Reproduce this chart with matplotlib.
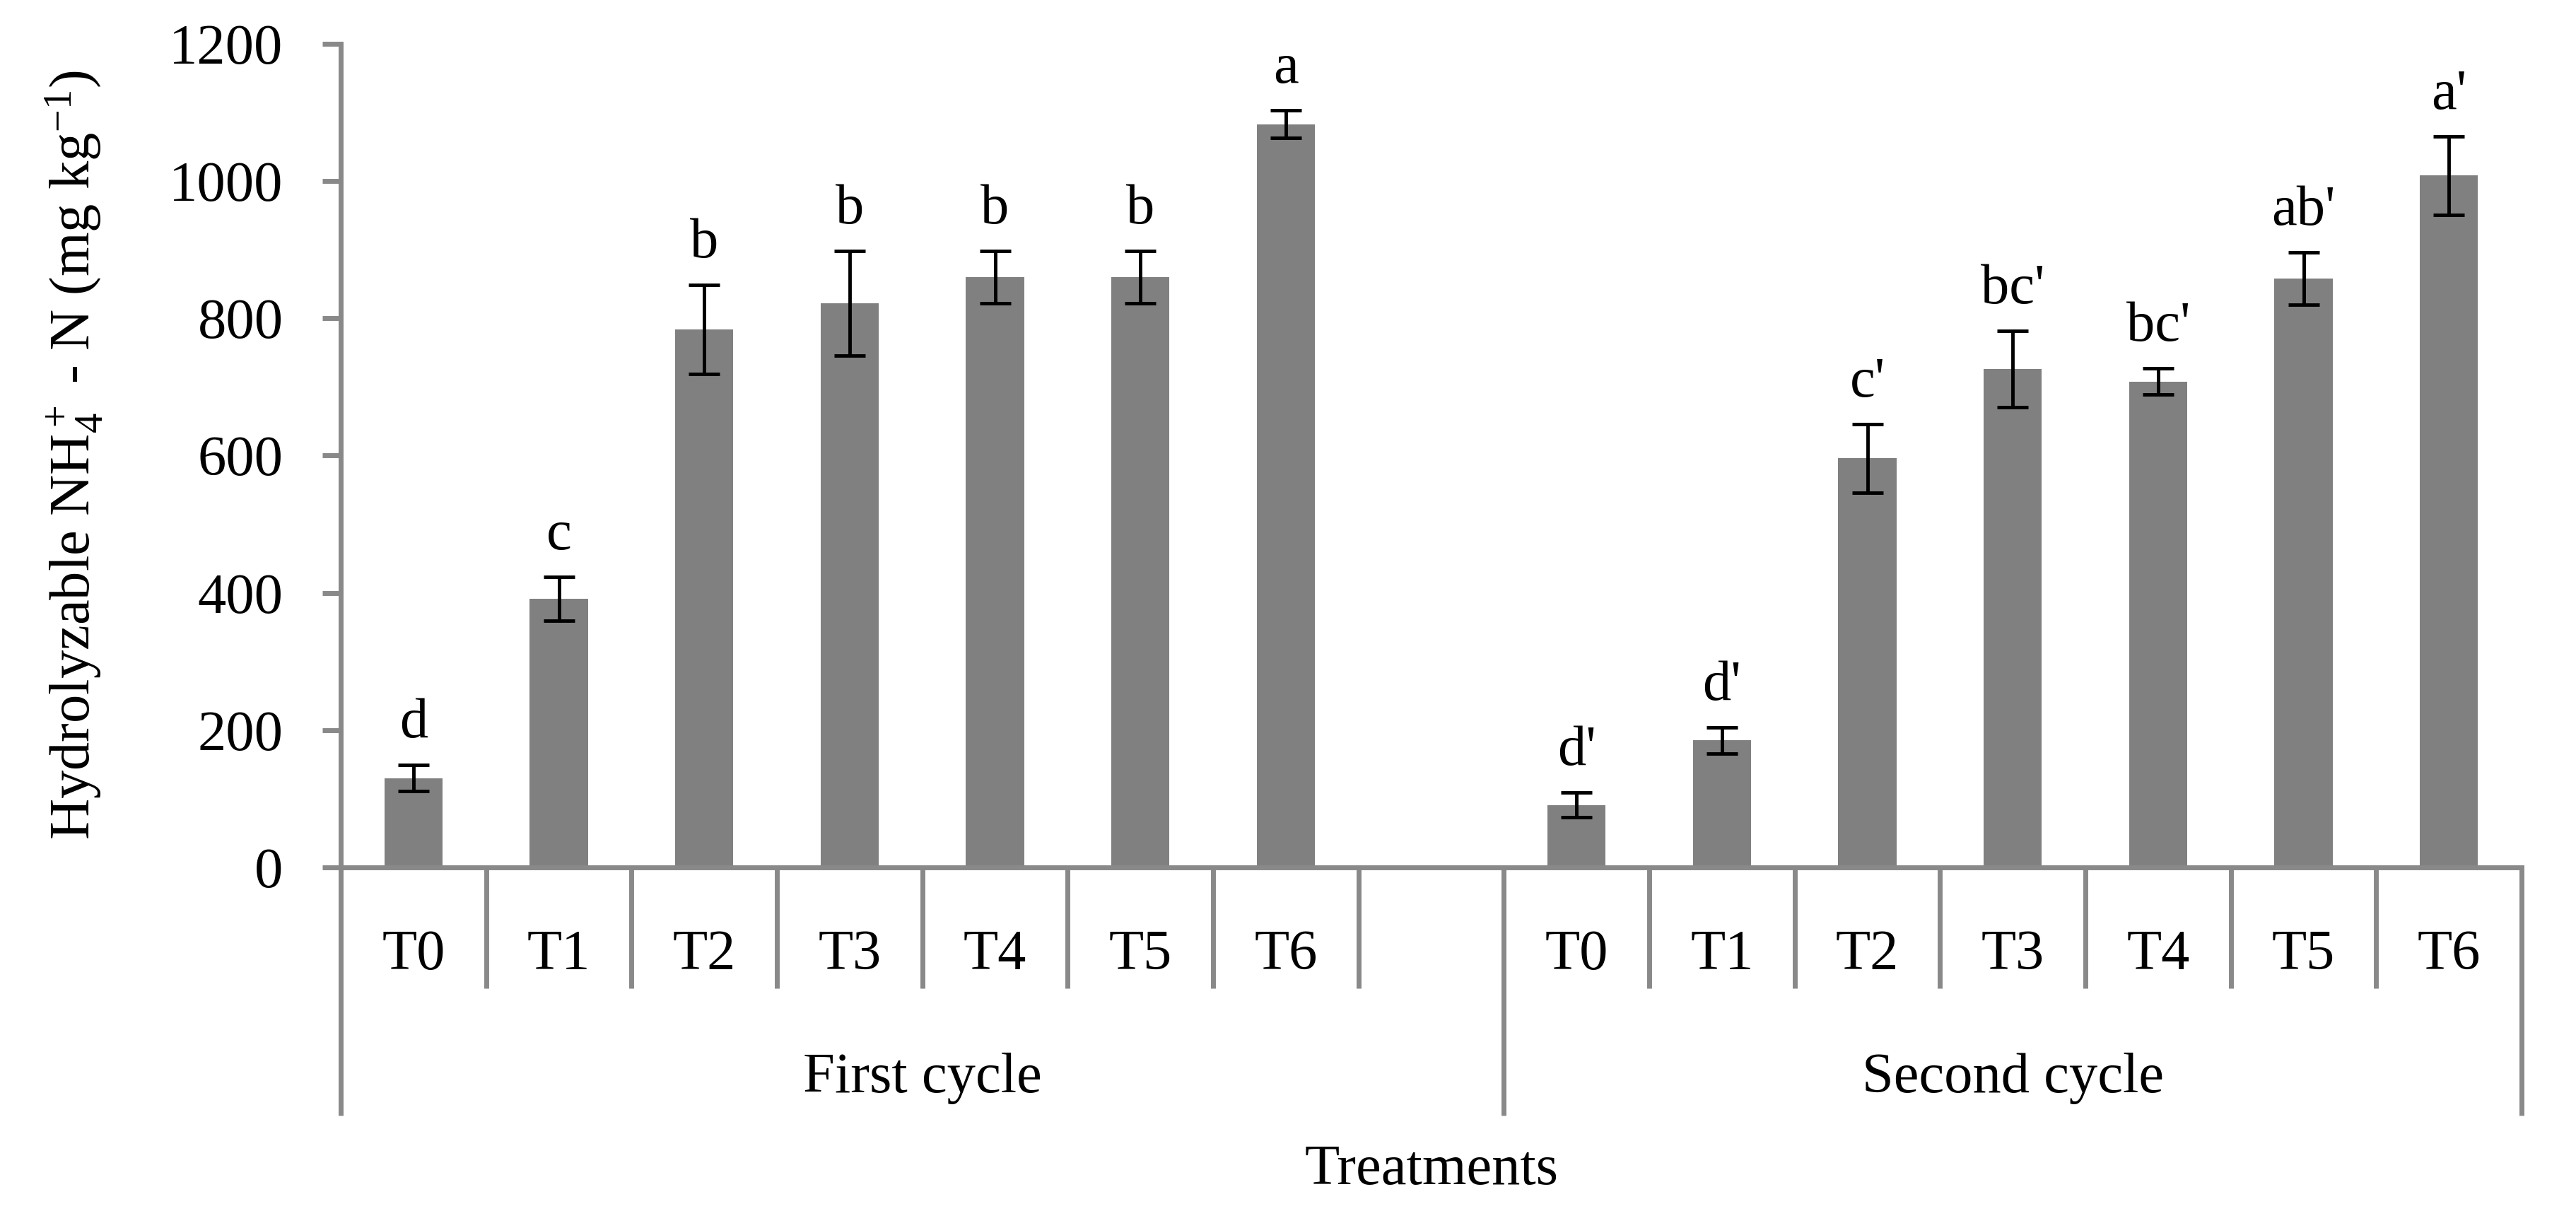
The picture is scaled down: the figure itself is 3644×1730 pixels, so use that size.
import matplotlib
matplotlib.use("Agg")
import matplotlib.pyplot as plt
from matplotlib.transforms import blended_transform_factory

plt.rcParams["font.family"] = ["Liberation Serif", "DejaVu Serif"]
plt.rcParams["mathtext.fontset"] = "custom"
plt.rcParams["mathtext.rm"] = "Liberation Serif"
plt.rcParams["mathtext.it"] = "Liberation Serif:italic"

treatments = ["T0", "T1", "T2", "T3", "T4", "T5", "T6"]
cycles = ["First cycle", "Second cycle"]

first_mean = [130, 391, 784, 822, 860, 860, 1083]
first_err = [19, 32, 65, 76, 38, 38, 20]
first_letters = ["d", "c", "b", "b", "b", "b", "a"]

second_mean = [91, 185, 596, 726, 708, 858, 1008]
second_err = [18, 19, 50, 56, 19, 38, 57]
second_letters = ["d'", "d'", "c'", "bc'", "bc'", "ab'", "a'"]

gray = "#898989"
fs = 58

fig = plt.figure(figsize=(36.44, 17.30), dpi=100)
ax = fig.add_axes([0.1323, 0.2908, 0.8466, 0.6734])

x1 = list(range(7))
x2 = [8 + i for i in range(7)]
xs = x1 + x2
means = first_mean + second_mean
errs = first_err + second_err
letters = first_letters + second_letters

ax.bar(xs, means, width=0.4, color="#808080", yerr=errs,
       error_kw=dict(ecolor="black", elinewidth=3.5, capsize=16, capthick=3.5))

for x, m, e, lab in zip(xs, means, errs, letters):
    ax.text(x, m + e + 40, lab, ha="center", va="baseline", fontsize=fs)

ax.set_xlim(-0.5, 14.5)
ax.set_ylim(0, 1200)
ax.set_yticks(range(0, 1201, 200))
ax.set_xticks([])
ax.tick_params(axis="y", direction="out", length=18.7, width=5, color=gray,
               pad=40, labelsize=fs)
for s in ["top", "right"]:
    ax.spines[s].set_visible(False)
for s in ["left", "bottom"]:
    ax.spines[s].set_color(gray)
    ax.spines[s].set_linewidth(5)

# category / group separators below the axis
trans = blended_transform_factory(ax.transData, fig.transFigure)
y0 = 0.2908
for k in range(0, 16):
    b = k - 0.5
    ybot = 0.088 if k in (0, 8, 15) else 0.192
    ax.plot([b, b], [y0, ybot], transform=trans, clip_on=False,
            color=gray, lw=5, solid_capstyle="butt")

for x, name in zip(x1, treatments):
    ax.text(x, 0.2075, name, transform=trans, ha="center", va="baseline", fontsize=fs)
for x, name in zip(x2, treatments):
    ax.text(x, 0.2075, name, transform=trans, ha="center", va="baseline", fontsize=fs)

ax.text(3.5, 0.107, cycles[0], transform=trans, ha="center", va="baseline", fontsize=fs)
ax.text(11.0, 0.107, cycles[1], transform=trans, ha="center", va="baseline", fontsize=fs)

fig.text(0.5556, 0.032, "Treatments", ha="center", va="baseline", fontsize=fs)
fig.text(0.029, 0.628, r"Hydrolyzable NH$_4^+$ - N (mg kg$^{-1}$)", rotation=90,
         ha="center", va="center", fontsize=fs)

fig.savefig("out.png", dpi=100)
